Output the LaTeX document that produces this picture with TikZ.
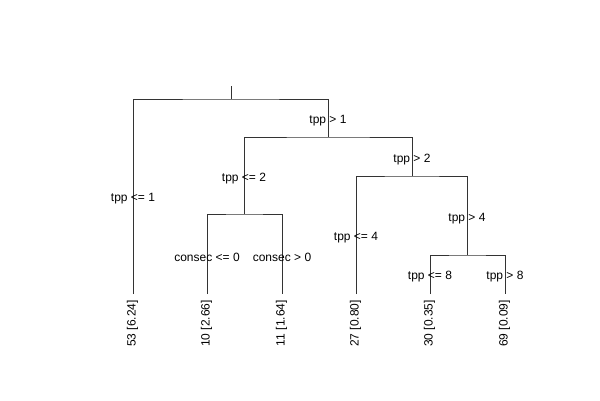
\documentclass[tikz,border=0pt]{standalone}
\usepackage{fontspec}
\setmainfont{Liberation Sans}
\begin{document}
\begin{tikzpicture}[x=1pt,y=-1pt,
  edge/.style={draw=black!80,line width=0.8pt},
  split/.style={font=\fontsize{12}{14}\selectfont, inner sep=0pt},
  leaf/.style={font=\fontsize{12}{14}\selectfont, rotate=90, anchor=east, inner sep=0pt}]
\useasboundingbox (0,0) rectangle (600,400);
% junction coordinates
\coordinate (rt) at (231,86);
\coordinate (rb) at (231,99);
\coordinate (Ab) at (133,294);
\coordinate (Bb) at (328,137);
\coordinate (Cb) at (244,214);
\coordinate (Db) at (207,294);
\coordinate (Eb) at (282,294);
\coordinate (Fb) at (412,176);
\coordinate (Gb) at (356,294);
\coordinate (Hb) at (467,255);
\coordinate (Ib) at (430,294);
\coordinate (Jb) at (505,294);
% edges
\draw[edge] (rt) -- (rb);
\draw[edge] (Ab) |- (rb) -| (Bb);
\draw[edge] (Cb) |- (Bb) -| (Fb);
\draw[edge] (Db) |- (Cb) -| (Eb);
\draw[edge] (Gb) |- (Fb) -| (Hb);
\draw[edge] (Ib) |- (Hb) -| (Jb);
% split labels
\node[split] (lA) at (133,198.5) {tpp <= 1};
\node[split] (lB) at (328,120.5) {tpp > 1};
\node[split] (lC) at (244,178.5) {tpp <= 2};
\node[split] (lD) at (207,257.5) {consec <= 0};
\node[split] (lE) at (282,257.5) {consec > 0};
\node[split] (lF) at (412,159.5) {tpp > 2};
\node[split] (lG) at (356,237.5) {tpp <= 4};
\node[split] (lH) at (467,218.5) {tpp > 4};
\node[split] (lI) at (430,276.5) {tpp <= 8};
\node[split] (lJ) at (505,276.5) {tpp > 8};
% leaf labels
\node[leaf] (fA) at (132.5,300) {53 [6.24]};
\node[leaf] (fD) at (206.5,300) {10 [2.66]};
\node[leaf] (fE) at (281.5,300) {11 [1.64]};
\node[leaf] (fG) at (355.5,300) {27 [0.80]};
\node[leaf] (fI) at (429.5,300) {30 [0.35]};
\node[leaf] (fJ) at (504.5,300) {69 [0.09]};
\end{tikzpicture}
\end{document}
